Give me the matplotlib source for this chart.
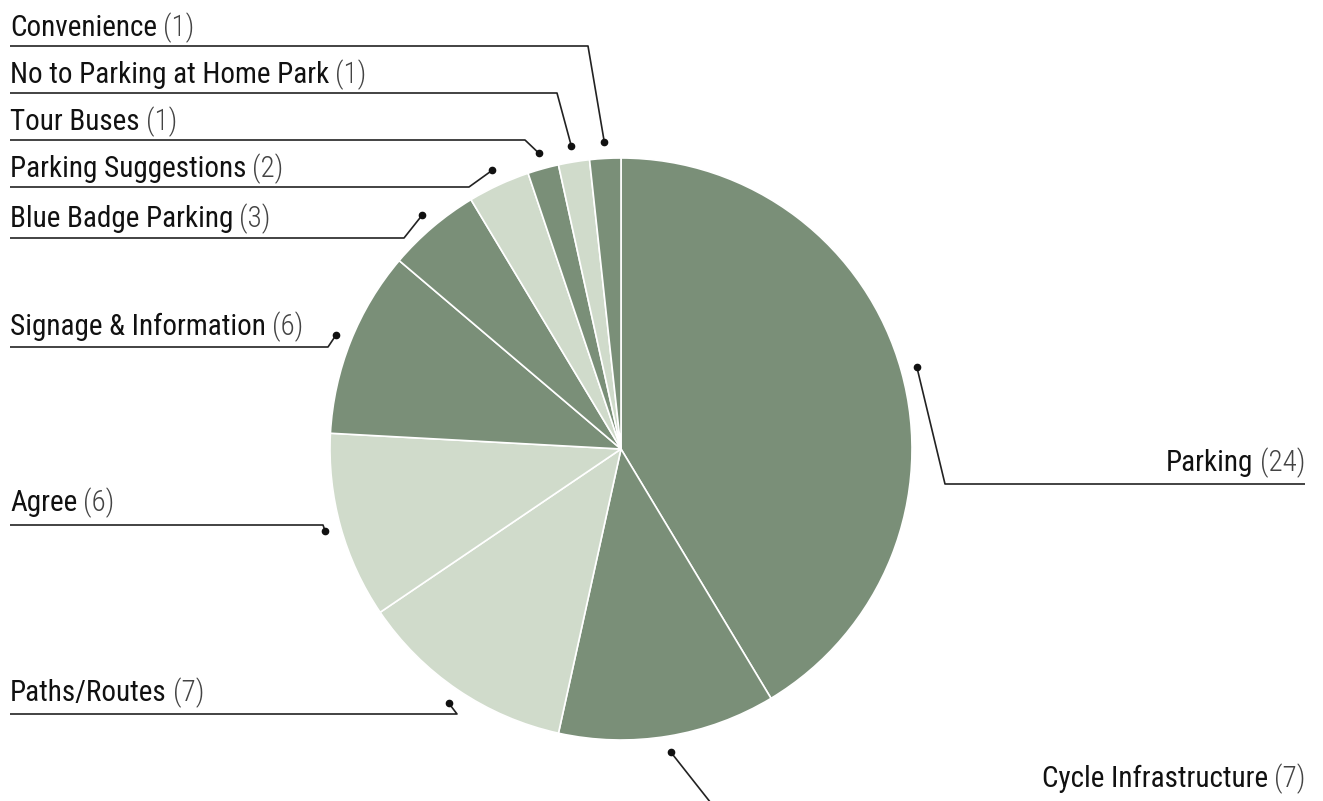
import matplotlib
matplotlib.use('Agg')
import matplotlib.pyplot as plt
import numpy as np

plt.rcParams['font.family'] = ['Roboto Condensed', 'DejaVu Sans']

topics = ['Parking', 'Cycle Infrastructure', 'Paths/Routes', 'Agree', 'Signage & Information',
          'Blue Badge Parking', 'Parking Suggestions', 'Tour Buses', 'No to Parking at Home Park',
          'Convenience']
counts = [24, 7, 7, 6, 6, 3, 2, 1, 1, 1]

dark = '#7a8f78'
light = '#d0dbcb'
colors = [dark, dark, light, light, dark, dark, light, dark, light, dark]

# where each label sits: side, text baseline y, underline y, elbow x (pixels from top-left)
label_side = ['right', 'right', 'left', 'left', 'left', 'left', 'left', 'left', 'left', 'left']
text_y = [471, 787, 701, 511, 335, 227, 177, 130, 83, 36]
line_y = [484, 812, 714, 525, 347, 238, 187, 140, 93, 46]
elbow_x = [945, 718, 457, 323, 328, 404, 469, 525, 557, 588]

W, H = 1323, 801
cx, cy, R = 621, 449, 291
left_x, right_x = 10, 1305
fsize = 21

fig = plt.figure(figsize=(W / 100, H / 100), dpi=100)
ax = fig.add_axes([0, 0, 1, 1])

# y grows downward, so counterclock in data space turns clockwise on screen
wedges, _ = ax.pie(counts, colors=colors, radius=R, center=(cx, cy), startangle=-90,
                   counterclock=True, wedgeprops=dict(edgecolor='white', linewidth=1.2))

ax.set_xlim(0, W)
ax.set_ylim(H, 0)
ax.set_aspect('auto')
ax.axis('off')

fig.canvas.draw()
rend = fig.canvas.get_renderer()

for w, name, n, side, ty, ly, ex in zip(wedges, topics, counts, label_side, text_y, line_y, elbow_x):
    mid = np.deg2rad((w.theta1 + w.theta2) / 2)
    dx = cx + (R + 16) * np.cos(mid)
    dy = cy + (R + 16) * np.sin(mid)
    if side == 'left':
        t = ax.text(left_x, ty, name, fontsize=fsize, color='#111111', va='baseline', ha='left')
        bb = t.get_window_extent(rend)
        ax.text(left_x + bb.width + 6, ty, '(%d)' % n, fontsize=fsize, fontweight='light',
                color='#444444', va='baseline', ha='left')
        ax.plot([left_x, ex, dx], [ly, ly, dy], color='#222222', lw=1.2, solid_capstyle='butt')
    else:
        v = ax.text(right_x, ty, '(%d)' % n, fontsize=fsize, fontweight='light',
                    color='#444444', va='baseline', ha='right')
        bb = v.get_window_extent(rend)
        ax.text(right_x - bb.width - 6, ty, name, fontsize=fsize, color='#111111',
                va='baseline', ha='right')
        ax.plot([right_x, ex, dx], [ly, ly, dy], color='#222222', lw=1.2, solid_capstyle='butt')
    ax.plot(dx, dy, 'o', color='#111111', markersize=4.5)

fig.savefig('out.png', dpi=100)
